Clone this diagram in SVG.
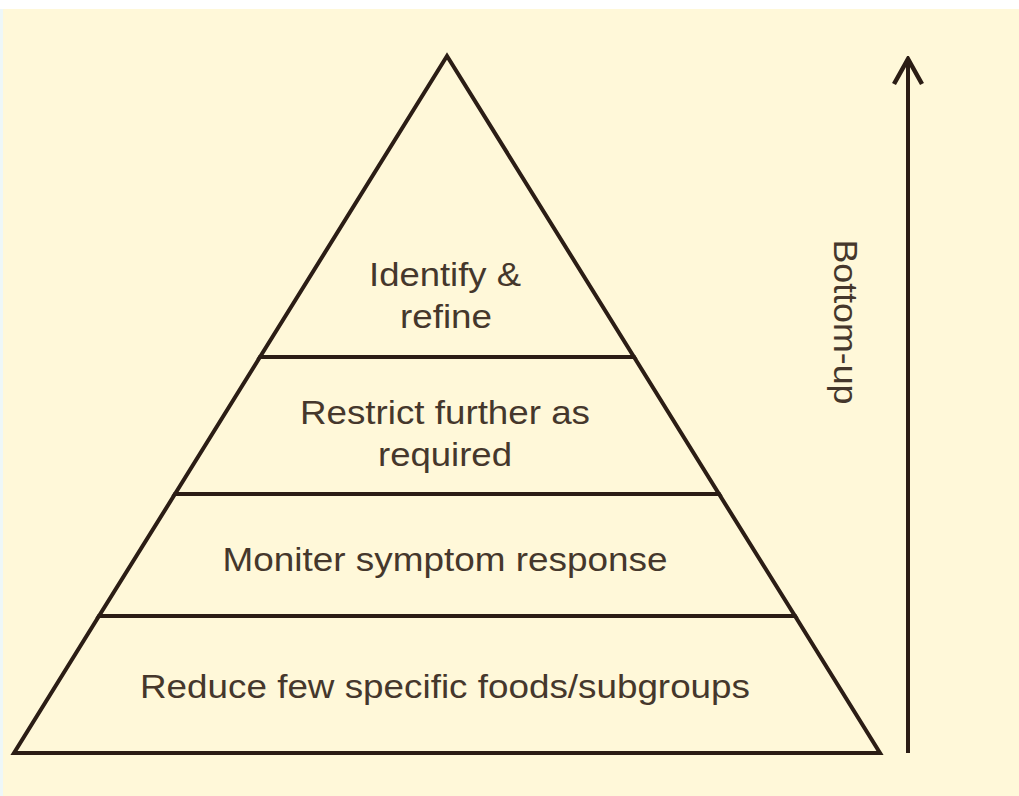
<svg xmlns="http://www.w3.org/2000/svg" width="1019" height="796" viewBox="0 0 1019 796">
<defs>
<style>
.band{fill:#fff8d9;stroke:#2b1d15;stroke-width:4;stroke-linejoin:miter}
.lbl{font-family:"Liberation Sans",Arial,sans-serif;font-size:34px;fill:#45372c;text-anchor:middle}
.conn{stroke:#2b1d15;stroke-width:4;fill:none}
</style>
<marker id="ah" viewBox="0 0 30 32" refX="23" refY="16" markerWidth="30" markerHeight="32" markerUnits="userSpaceOnUse" orient="auto">
<path d="M2,2 L27,16 L2,30" fill="none" stroke="#2b1d15" stroke-width="4.5" stroke-linejoin="miter"/>
</marker>
</defs>
<rect x="0" y="0" width="1019" height="796" fill="#ffffff"/>
<rect x="0" y="9" width="4" height="787" fill="#eef7f8"/>
<rect x="3" y="9" width="1016" height="787" fill="#fff8d9"/>
<g id="level1">
<polygon class="band" points="14,753 880,753 795,616 99,616"/>
<text class="lbl" x="445" y="698" textLength="610" lengthAdjust="spacingAndGlyphs">Reduce few specific foods/subgroups</text>
</g>
<g id="level2">
<polygon class="band" points="99,616 795,616 719,494 175,494"/>
<text class="lbl" x="445" y="571" textLength="445" lengthAdjust="spacingAndGlyphs">Moniter symptom response</text>
</g>
<g id="level3">
<polygon class="band" points="175,494 719,494 634,357 260,357"/>
<text class="lbl" x="445" y="424" textLength="290" lengthAdjust="spacingAndGlyphs">Restrict further as</text>
<text class="lbl" x="445" y="466" textLength="134" lengthAdjust="spacingAndGlyphs">required</text>
</g>
<g id="level4">
<polygon class="band" points="260,357 634,357 447,56"/>
<text class="lbl" x="445" y="286" textLength="152" lengthAdjust="spacingAndGlyphs">Identify &amp;</text>
<text class="lbl" x="446" y="328" textLength="92" lengthAdjust="spacingAndGlyphs">refine</text>
</g>
<g id="connectors">
<line class="conn" x1="908" y1="753" x2="908" y2="63" marker-end="url(#ah)"/>
</g>
<g id="direction-label">
<text class="lbl" transform="translate(834,322) rotate(90)" x="0" y="0" textLength="165" lengthAdjust="spacingAndGlyphs">Bottom-up</text>
</g>
</svg>
